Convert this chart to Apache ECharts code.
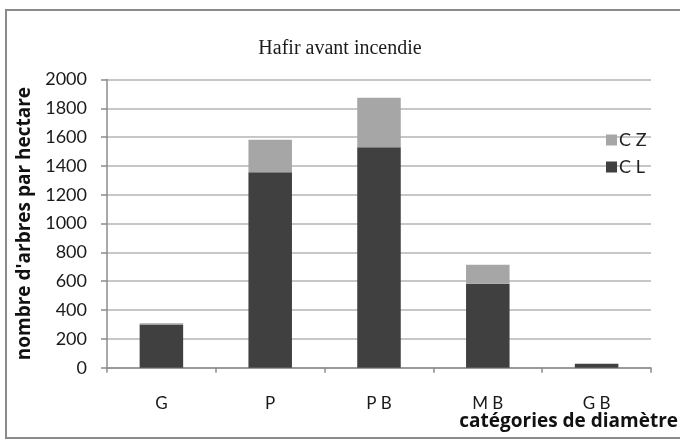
<!DOCTYPE html>
<html>
<head>
<meta charset="utf-8">
<script src="https://cdn.jsdelivr.net/npm/echarts@6/dist/echarts.min.js"></script>
<style>
  html, body { margin: 0; padding: 0; background: #ffffff; }
  #chart { width: 680px; height: 441px; }
</style>
</head>
<body>
<div id="chart"></div>
<script>
// Diameter classes
const categories = ['G', 'P', 'P B', 'M B', 'G B'];
// Trees per hectare, stacked: CL at the bottom, CZ on top
const valuesCL = [300, 1356, 1529, 582, 27];
const valuesCZ = [8, 226, 345, 132, 0];
// Y axis ticks
const yTicks = [0, 200, 400, 600, 800, 1000, 1200, 1400, 1600, 1800, 2000];

const chart = echarts.init(document.getElementById('chart'), null, { renderer: 'canvas' });

const labelFont = 'Lato, "Open Sans", "Noto Sans", sans-serif';
const nameFont = '"Open Sans", Lato, "Noto Sans", sans-serif';

chart.setOption({
  animation: false,
  backgroundColor: '#ffffff',
  title: {
    text: 'Hafir avant incendie',
    left: 'center',
    top: 34,
    textStyle: {
      fontFamily: '"Liberation Serif", "DejaVu Serif", serif',
      fontWeight: 'normal',
      fontSize: 20,
      color: '#1a1a1a'
    }
  },
  legend: {
    orient: 'vertical',
    left: 601,
    top: 126,
    itemWidth: 11,
    itemHeight: 11,
    itemGap: 9,
    icon: 'rect',
    data: ['C Z', 'C L'],
    textStyle: { fontFamily: labelFont, fontSize: 18, color: '#222', padding: [0, 0, 0, -3] }
  },
  grid: { left: 107, right: 29, top: 79.5, bottom: 73.3, containLabel: false },
  xAxis: {
    type: 'category',
    data: categories,
    axisLine: { show: true, lineStyle: { color: '#8c8c8c', width: 1.5 } },
    axisTick: { show: true, alignWithLabel: false, length: 5, lineStyle: { color: '#8c8c8c', width: 1.5 } },
    axisLabel: { margin: 27, fontFamily: labelFont, fontSize: 17, color: '#1a1a1a' }
  },
  yAxis: {
    type: 'value',
    min: yTicks[0],
    max: yTicks[yTicks.length - 1],
    interval: yTicks[1] - yTicks[0],
    name: "nombre d'arbres par hectare",
    nameLocation: 'middle',
    nameRotate: 90,
    nameGap: 71,
    nameTextStyle: { fontFamily: nameFont, fontSize: 19, fontWeight: 'bold', color: '#111' },
    axisLine: { show: true, lineStyle: { color: '#8c8c8c', width: 1.5 } },
    axisTick: { show: true, inside: false, length: 6, lineStyle: { color: '#8c8c8c', width: 1.5 } },
    axisLabel: {
      margin: 20,
      fontFamily: labelFont,
      fontSize: 18,
      color: '#1a1a1a',
      formatter: (v) => String(v)
    },
    splitLine: { show: true, lineStyle: { color: '#b4b4b4', width: 1.5 } }
  },
  series: [
    {
      name: 'C L',
      type: 'bar',
      stack: 'total',
      barWidth: '40%',
      data: valuesCL,
      itemStyle: { color: '#404040' }
    },
    {
      name: 'C Z',
      type: 'bar',
      stack: 'total',
      barWidth: '40%',
      data: valuesCZ,
      itemStyle: { color: '#a6a6a6' }
    }
  ],
  graphic: [
    {
      type: 'rect',
      shape: { x: 6, y: 10, width: 690, height: 428 },
      style: { fill: 'none', stroke: '#8a8a8a', lineWidth: 2 },
      silent: true
    },
    {
      type: 'text',
      right: 2,
      top: 412,
      style: {
        text: 'catégories de diamètre',
        font: 'bold 19px ' + nameFont,
        fill: '#111'
      }
    }
  ]
});
</script>
</body>
</html>
